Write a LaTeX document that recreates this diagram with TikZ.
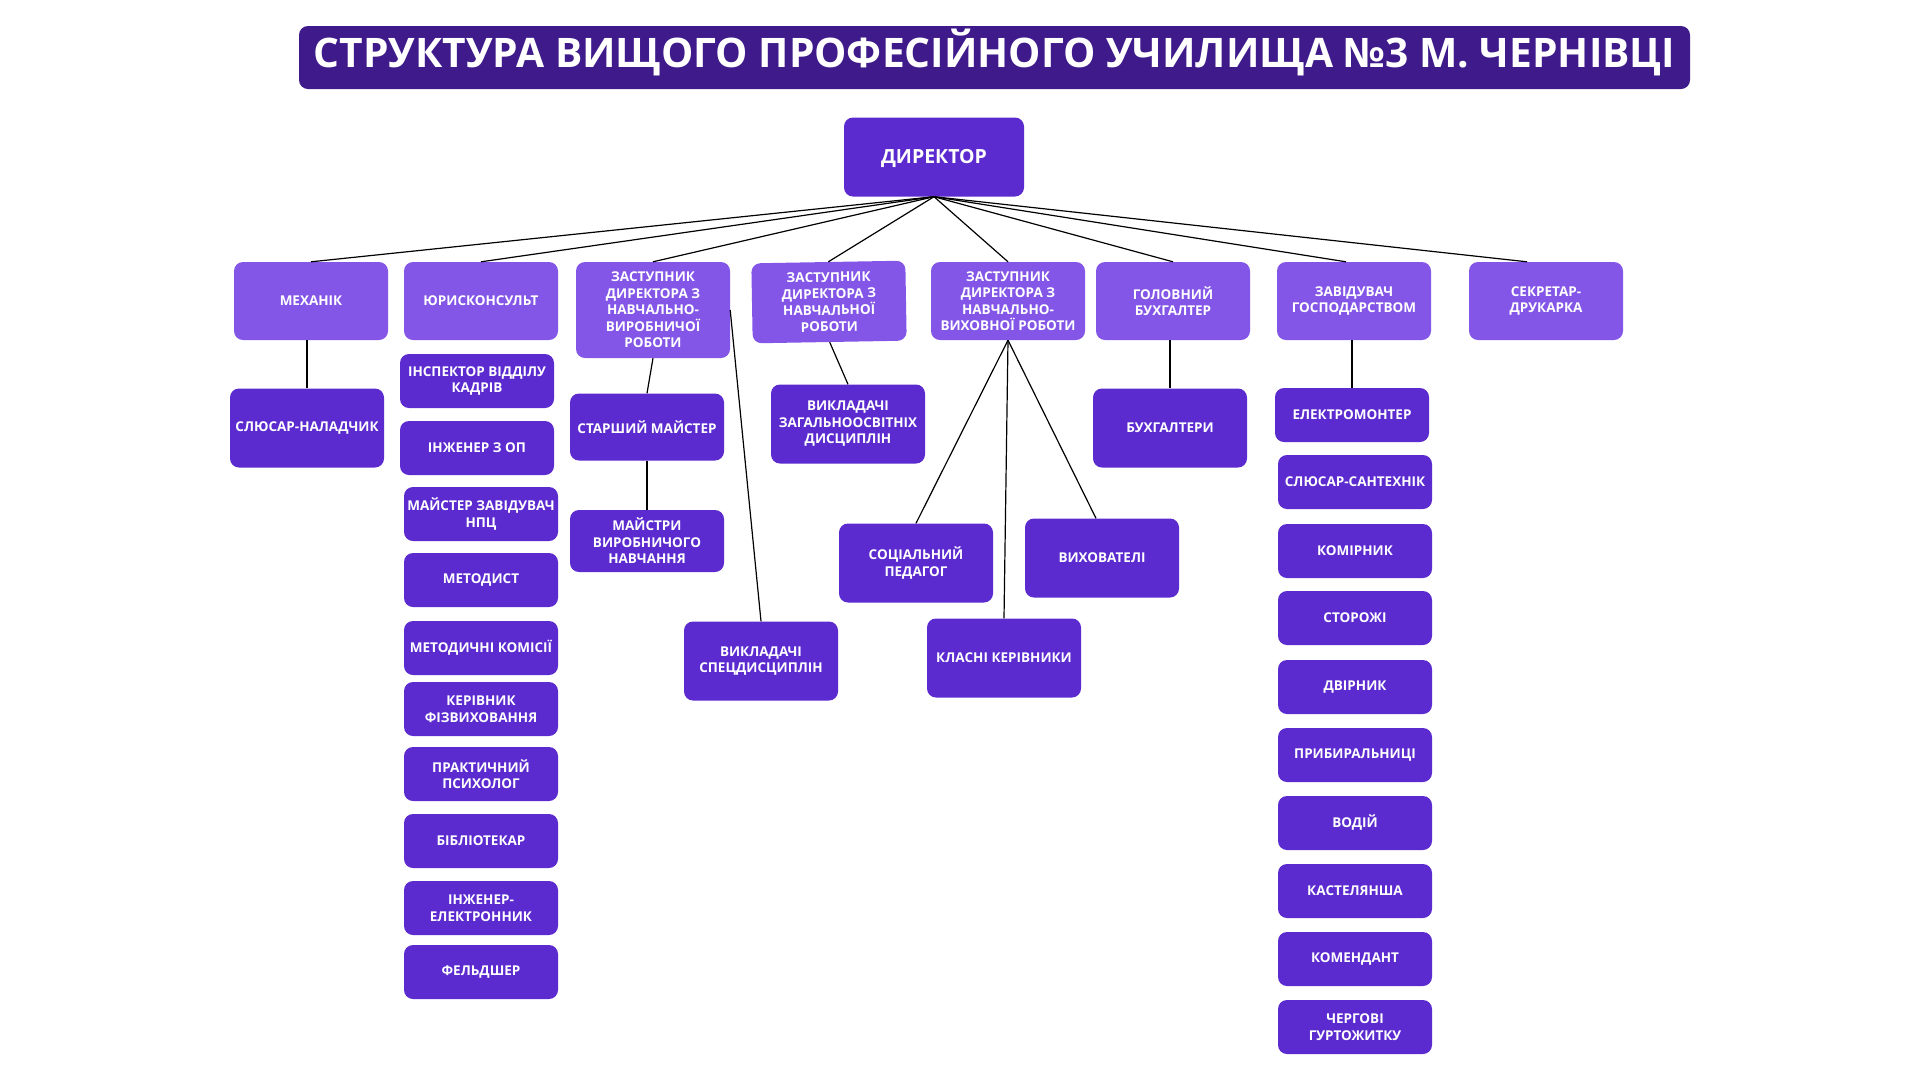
\documentclass[tikz,border=0pt]{standalone}
\usepackage{fontspec}
\setmainfont{Open Sans}
\definecolor{barc}{HTML}{3E1A8A}
\definecolor{lightc}{HTML}{8356E8}
\definecolor{darkc}{HTML}{5C2BD0}
\tikzset{
  base/.style={rounded corners=9pt, text=white, align=center, inner sep=2pt,
    font=\bfseries\fontsize{13.5}{16.5}\selectfont},
  upbox/.style={base, fill=lightc, minimum width=154pt, minimum height=78pt},
  lowbox/.style={base, fill=darkc, minimum width=154pt, minimum height=79pt},
  smallbox/.style={base, fill=darkc, minimum width=154pt, minimum height=54pt},
  link/.style={draw=black, line width=1.2pt}
}
\begin{document}
\begin{tikzpicture}[x=1pt, y=-1pt]
\useasboundingbox[fill=white] (0,0) rectangle (1920,1080);
% title
\node[fill=barc, rounded corners=9pt, minimum width=1391pt, minimum height=63pt, text=white, inner sep=0pt,
  text height=19.6pt, text depth=0pt,
  font=\bfseries\fontsize{40.7}{48}\selectfont] (title) at (994.5,57.5)
  {СТРУКТУРА ВИЩОГО ПРОФЕСІЙНОГО УЧИЛИЩА №3 М. ЧЕРНІВЦІ};
% director
\node[base, fill=darkc, minimum width=180pt, minimum height=79pt, text height=13pt, text depth=0pt,
  font=\bfseries\fontsize{19.5}{22}\selectfont] (dir) at (934,157) {ДИРЕКТОР};
% level 1
\node[upbox] (mech) at (311,301) {МЕХАНІК};
\node[upbox] (jur) at (481,301) {ЮРИСКОНСУЛЬТ};
\node[upbox, minimum height=96pt] (z1) at (653,310) {ЗАСТУПНИК\\ДИРЕКТОРА З\\НАВЧАЛЬНО-\\ВИРОБНИЧОЇ\\РОБОТИ};
\node[upbox, minimum height=80pt, rotate=1] (z2) at (829,302) {ЗАСТУПНИК\\ДИРЕКТОРА З\\НАВЧАЛЬНОЇ\\РОБОТИ};
\node[upbox] (z3) at (1008,301) {ЗАСТУПНИК\\ДИРЕКТОРА З\\НАВЧАЛЬНО-\\ВИХОВНОЇ РОБОТИ};
\node[upbox] (gb) at (1173,301) {ГОЛОВНИЙ\\БУХГАЛТЕР};
\node[upbox] (zg) at (1354,301) {ЗАВІДУВАЧ\\ГОСПОДАРСТВОМ};
\node[upbox] (sk) at (1546,301) {СЕКРЕТАР-\\ДРУКАРКА};
% level 2
\node[lowbox] (sn) at (307,428) {СЛЮСАР-НАЛАДЧИК};
\node[smallbox] (ink) at (477,381) {ІНСПЕКТОР ВІДДІЛУ\\КАДРІВ};
\node[smallbox] (ing) at (477,448) {ІНЖЕНЕР З ОП};
\node[smallbox] (mz) at (481,514) {МАЙСТЕР ЗАВІДУВАЧ\\НПЦ};
\node[smallbox] (met) at (481,580) {МЕТОДИСТ};
\node[smallbox] (mk) at (481,648) {МЕТОДИЧНІ КОМІСІЇ};
\node[smallbox] (kf) at (481,709) {КЕРІВНИК\\ФІЗВИХОВАННЯ};
\node[smallbox] (pp) at (481,774) {ПРАКТИЧНИЙ\\ПСИХОЛОГ};
\node[smallbox] (bib) at (481,841) {БІБЛІОТЕКАР};
\node[smallbox] (ie) at (481,908) {ІНЖЕНЕР-\\ЕЛЕКТРОННИК};
\node[smallbox] (fel) at (481,972) {ФЕЛЬДШЕР};
\node[lowbox, minimum height=67pt] (sm) at (647,427) {СТАРШИЙ МАЙСТЕР};
\node[lowbox, minimum height=62pt] (mvn) at (647,541) {МАЙСТРИ\\ВИРОБНИЧОГО\\НАВЧАННЯ};
\node[lowbox] (vs) at (761,661) {ВИКЛАДАЧІ\\СПЕЦДИСЦИПЛІН};
\node[lowbox] (vz) at (848,424) {ВИКЛАДАЧІ\\ЗАГАЛЬНООСВІТНІХ\\ДИСЦИПЛІН};
\node[lowbox] (sp) at (916,563) {СОЦІАЛЬНИЙ\\ПЕДАГОГ};
\node[lowbox] (kk) at (1004,658) {КЛАСНІ КЕРІВНИКИ};
\node[lowbox] (vh) at (1102,558) {ВИХОВАТЕЛІ};
\node[lowbox] (bh) at (1170,428) {БУХГАЛТЕРИ};
\node[smallbox] (el) at (1352,415) {ЕЛЕКТРОМОНТЕР};
\node[smallbox] (ss) at (1355,482) {СЛЮСАР-САНТЕХНІК};
\node[smallbox] (kom) at (1355,551) {КОМІРНИК};
\node[smallbox] (st) at (1355,618) {СТОРОЖІ};
\node[smallbox] (dv) at (1355,687) {ДВІРНИК};
\node[smallbox] (pr) at (1355,755) {ПРИБИРАЛЬНИЦІ};
\node[smallbox] (vo) at (1355,823) {ВОДІЙ};
\node[smallbox] (ka) at (1355,891) {КАСТЕЛЯНША};
\node[smallbox] (ko) at (1355,959) {КОМЕНДАНТ};
\node[smallbox] (ch) at (1355,1027) {ЧЕРГОВІ\\ГУРТОЖИТКУ};
% connectors
\foreach \n in {mech,jur,z1,z2,z3,gb}
  \draw[link] (dir.south) -- (\n.north);
\draw[link] (dir.south) -- ([xshift=-8pt]zg.north);
\draw[link] (dir.south) -- ([xshift=-19pt]sk.north);
\draw[link] (sn.north |- mech.south) -- (sn.north);
\draw[link] (z1.south) -- (sm.north);
\draw[link] (sm.south) -- (mvn.north);
\draw[link] (z1.east) -- (vs.north);
\draw[link] (z2.south) -- (vz.north);
\draw[link] (z3.south) -- (sp.north);
\draw[link] (z3.south) -- (kk.north);
\draw[link] (z3.south) -- ([xshift=-6pt]vh.north);
\draw[link] (bh.north |- gb.south) -- (bh.north);
\draw[link] (el.north |- zg.south) -- (el.north);
\end{tikzpicture}
\end{document}
